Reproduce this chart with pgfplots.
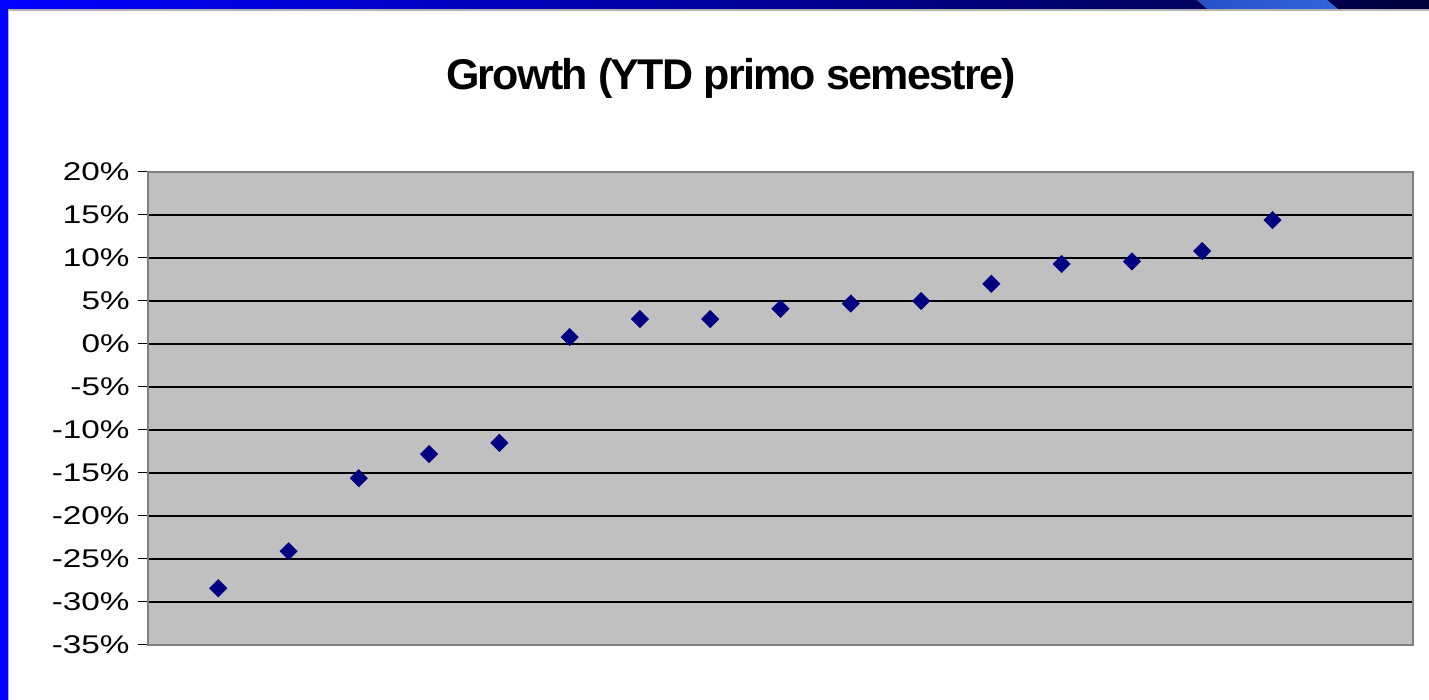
\documentclass[border=0pt]{standalone}
\usepackage{pgfplots}
\pgfplotsset{compat=1.18}
\usepackage{fontspec}
\setmainfont{Liberation Sans}
\newfontfamily\tickfont[FakeStretch=1.3]{Liberation Sans}
\newfontfamily\titlefont[LetterSpace=-4.0]{Liberation Sans}
\definecolor{navy}{HTML}{000080}
\definecolor{plotgray}{HTML}{C0C0C0}
\definecolor{framegray}{HTML}{808080}
\definecolor{slideblue}{HTML}{0000FF}
\definecolor{slidedark}{HTML}{00003C}
\definecolor{streakA}{HTML}{2850C8}
\definecolor{streakB}{HTML}{3264DC}
\begin{document}
\begin{tikzpicture}
\path[use as bounding box] (0pt,0pt) rectangle (714.5pt,350pt);
\fill[white] (0pt,0pt) rectangle (714.5pt,350pt);
% slide frame
\shade[left color=slideblue, right color=slidedark] (0pt,345.5pt) rectangle (714.5pt,350pt);
\shade[left color=streakA, right color=streakB] (598.5pt,350pt) -- (663.5pt,350pt) -- (669pt,345.5pt) -- (603.5pt,345.5pt) -- cycle;
\fill[slideblue] (0pt,0pt) rectangle (4pt,345.5pt);
\draw[gray!60, line width=0.6pt] (4pt,345pt) -- (714.5pt,345pt);
\draw[gray!60, line width=0.6pt] (4.25pt,0pt) -- (4.25pt,345pt);
% title
\node[anchor=base, inner sep=0pt] at (365.5pt,305pt) {\fontsize{21.5}{26}\selectfont\titlefont\bfseries Growth (YTD primo semestre)};
\begin{axis}[
  at={(74pt,27.5pt)}, anchor=south west,
  width=632.5pt, height=236.5pt, scale only axis,
  xmin=0, xmax=18, ymin=-35, ymax=20,
  xtick=\empty,
  ytick={-35,-30,-25,-20,-15,-10,-5,0,5,10,15,20},
  yticklabels={-35\%,-30\%,-25\%,-20\%,-15\%,-10\%,-5\%,0\%,5\%,10\%,15\%,20\%},
  ytick pos=left, tick align=outside, major tick length=5pt,
  tick style={black, line width=0.5pt},
  ymajorgrids, grid style={black, line width=0.6pt},
  axis background/.style={fill=plotgray},
  axis line style={draw=framegray, line width=1pt},
  yticklabel style={font=\tickfont\fontsize{12.8}{14}\selectfont, inner sep=0pt, xshift=-4pt},
  clip=false,
]
\addplot[only marks, mark=square*, mark size=3pt,
  mark options={rotate=45, fill=navy, draw=navy}] coordinates {
  (1,-28.4) (2,-24.1) (3,-15.6) (4,-12.8) (5,-11.5) (6,0.8) (7,2.9) (8,2.9)
  (9,4.1) (10,4.7) (11,5.0) (12,7.0) (13,9.3) (14,9.6) (15,10.8) (16,14.4)
};
\end{axis}
\end{tikzpicture}
\end{document}
